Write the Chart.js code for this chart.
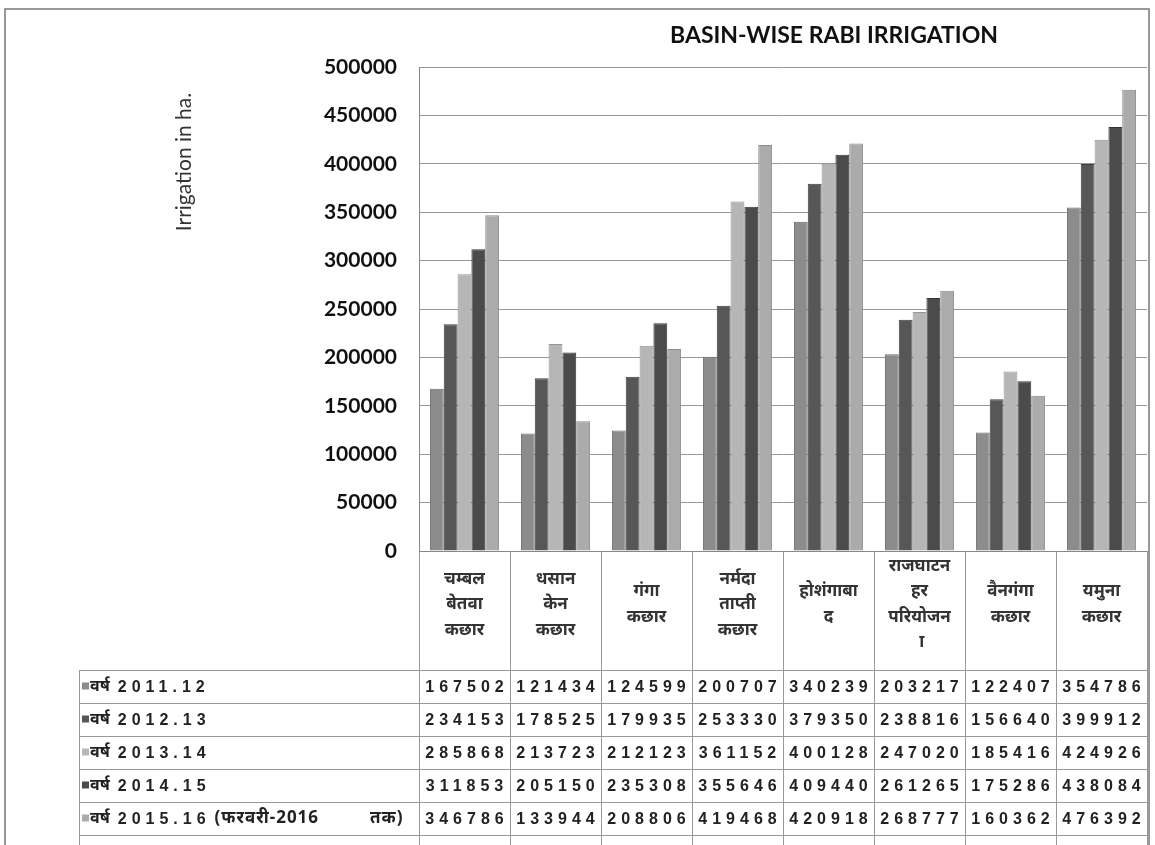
<!DOCTYPE html>
<html>
<head>
    <title>Basin-wise Rabi Irrigation</title>
    <script src="https://cdn.jsdelivr.net/npm/chart.js"></script>
    <style>
        body { margin: 0; background: #fff; }
    </style>
</head>
<body>
    <canvas id="rabiChart" width="1155" height="845"></canvas>

    <script>
        const basins = [
            ['चम्बल', 'बेतवा', 'कछार'],
            ['धसान', 'केन', 'कछार'],
            ['गंगा', 'कछार'],
            ['नर्मदा', 'ताप्ती', 'कछार'],
            ['होशंगाबा', 'द'],
            ['राजघाटन', 'हर', 'परियोजन', '\u00A0ा'],
            ['वैनगंगा', 'कछार'],
            ['यमुना', 'कछार']
        ];
        const seriesWords = ['वर्ष', 'वर्ष', 'वर्ष', 'वर्ष', 'वर्ष'];
        const seriesYears = ['2011.12', '2012.13', '2013.14', '2014.15', '2015.16'];
        const seriesNotes = ['', '', '', '', '(फरवरी-2016'];
        const seriesTails = ['', '', '', '', 'तक)'];
        const year2011 = [167502, 121434, 124599, 200707, 340239, 203217, 122407, 354786];
        const year2012 = [234153, 178525, 179935, 253330, 379350, 238816, 156640, 399912];
        const year2013 = [285868, 213723, 212123, 361152, 400128, 247020, 185416, 424926];
        const year2014 = [311853, 205150, 235308, 355646, 409440, 261265, 175286, 438084];
        const year2015 = [346786, 133944, 208806, 419468, 420918, 268777, 160362, 476392];
        const yTicks = [0, 50000, 100000, 150000, 200000, 250000, 300000, 350000, 400000, 450000, 500000];

        const seriesValues = [year2011, year2012, year2013, year2014, year2015];
        const seriesNames = seriesYears.map((y, i) =>
            [seriesWords[i], y, seriesNotes[i], seriesTails[i]].join(' ').trim());
        const fills = ['#8c8c8c', '#575757', '#b6b6b6', '#4b4b4b', '#ababab'];
        const edges = ['#6e6e6e', '#3e3e3e', '#959595', '#343434', '#8c8c8c'];

        const ROW_H = 33;
        const TABLE_LEFT = 79;

        // title, axis label, frame and the data table under the axis
        const tablePlugin = {
            id: 'tablePlugin',
            afterDraw(chart) {
                const ctx = chart.ctx;
                const area = chart.chartArea;
                const xs = chart.scales.x;
                const half = (xs.getPixelForValue(1) - xs.getPixelForValue(0)) / 2;
                const top = xs.bottom;
                ctx.save();

                // outer frame
                ctx.strokeStyle = '#777';
                ctx.lineWidth = 1.5;
                ctx.strokeRect(5, 9, 1144, 900);

                // title
                ctx.fillStyle = '#111';
                ctx.font = 'bold 23px Lato, "Open Sans", sans-serif';
                ctx.textAlign = 'center';
                ctx.textBaseline = 'middle';
                ctx.fillText('BASIN-WISE RABI IRRIGATION', 834, 36);

                // y axis title
                ctx.save();
                ctx.translate(184, 162);
                ctx.rotate(-Math.PI / 2);
                ctx.fillStyle = '#333';
                ctx.font = '21px Lato, "Open Sans", sans-serif';
                ctx.fillText('Irrigation in ha.', 0, 0);
                ctx.restore();

                // table lines
                ctx.strokeStyle = '#999';
                ctx.lineWidth = 1;
                ctx.beginPath();
                for (let i = 0; i <= basins.length; i++) {
                    const x = Math.round(xs.getPixelForValue(i) - half) + 0.5;
                    ctx.moveTo(x, area.bottom);
                    ctx.lineTo(x, 845);
                }
                for (let r = 0; r <= seriesValues.length; r++) {
                    const y = Math.round(top + r * ROW_H) + 0.5;
                    ctx.moveTo(TABLE_LEFT, y);
                    ctx.lineTo(area.right, y);
                }
                ctx.moveTo(TABLE_LEFT + 0.5, top);
                ctx.lineTo(TABLE_LEFT + 0.5, 845);
                ctx.stroke();

                // table text
                ctx.textBaseline = 'middle';
                ctx.textAlign = 'left';
                seriesValues.forEach((vals, r) => {
                    const cy = top + r * ROW_H + ROW_H / 2;
                    ctx.fillStyle = fills[r];
                    ctx.fillRect(TABLE_LEFT + 3, cy - 4, 7, 7);
                    ctx.fillStyle = '#222';
                    let x = TABLE_LEFT + 11;
                    ctx.letterSpacing = '0px';
                    ctx.font = 'bold 16px "Noto Sans", sans-serif';
                    ctx.fillText(seriesWords[r], x, cy);
                    x += ctx.measureText(seriesWords[r]).width + 8;
                    ctx.letterSpacing = '5px';
                    ctx.font = 'bold 16px "Liberation Sans", sans-serif';
                    ctx.fillText(seriesYears[r], x, cy + 1);
                    x += ctx.measureText(seriesYears[r]).width + 4;
                    if (seriesNotes[r]) {
                        ctx.letterSpacing = '1px';
                        ctx.font = 'bold 17px "Noto Sans", sans-serif';
                        ctx.fillText(seriesNotes[r], x, cy);
                        ctx.fillText(seriesTails[r], 370, cy);
                    }
                    ctx.letterSpacing = '5px';
                    ctx.font = 'bold 16px "Liberation Sans", sans-serif';
                    vals.forEach((v, i) => {
                        const s = String(v);
                        const w = ctx.measureText(s).width - 5;
                        ctx.fillText(s, xs.getPixelForValue(i) - w / 2, cy + 1);
                    });
                });
                ctx.restore();
            }
        };

        const ctx = document.getElementById('rabiChart').getContext('2d');
        new Chart(ctx, {
            type: 'bar',
            data: {
                labels: basins,
                datasets: seriesNames.map((name, i) => ({
                    label: name,
                    data: seriesValues[i],
                    backgroundColor: fills[i],
                    borderColor: edges[i],
                    borderWidth: 1,
                    barPercentage: 1.0,
                    categoryPercentage: 0.76
                }))
            },
            options: {
                responsive: false,
                animation: false,
                layout: {
                    padding: { left: 0, top: 67, right: 8, bottom: 175 }
                },
                plugins: {
                    legend: { display: false },
                    title: { display: false },
                    tooltip: { enabled: false }
                },
                scales: {
                    x: {
                        grid: { display: false },
                        border: { display: true, color: '#888' },
                        ticks: {
                            color: '#333',
                            font: { family: '"Noto Sans", sans-serif', size: 17, weight: 'bold', lineHeight: 1.5 },
                            maxRotation: 0,
                            autoSkip: false,
                            crossAlign: 'center',
                            padding: 7
                        },
                        afterFit(scale) { scale.height = 119; }
                    },
                    y: {
                        min: 0,
                        max: 500000,
                        afterBuildTicks(scale) {
                            scale.ticks = yTicks.map(v => ({ value: v }));
                        },
                        grid: { color: '#999', lineWidth: 1, drawTicks: false },
                        border: { display: true, color: '#888' },
                        ticks: {
                            color: '#111',
                            font: { family: 'Lato, "Open Sans", sans-serif', size: 21, weight: 'bold' },
                            padding: 22,
                            callback: v => String(v)
                        },
                        afterFit(scale) { scale.width = 419; }
                    }
                }
            },
            plugins: [tablePlugin]
        });
    </script>
</body>
</html>
